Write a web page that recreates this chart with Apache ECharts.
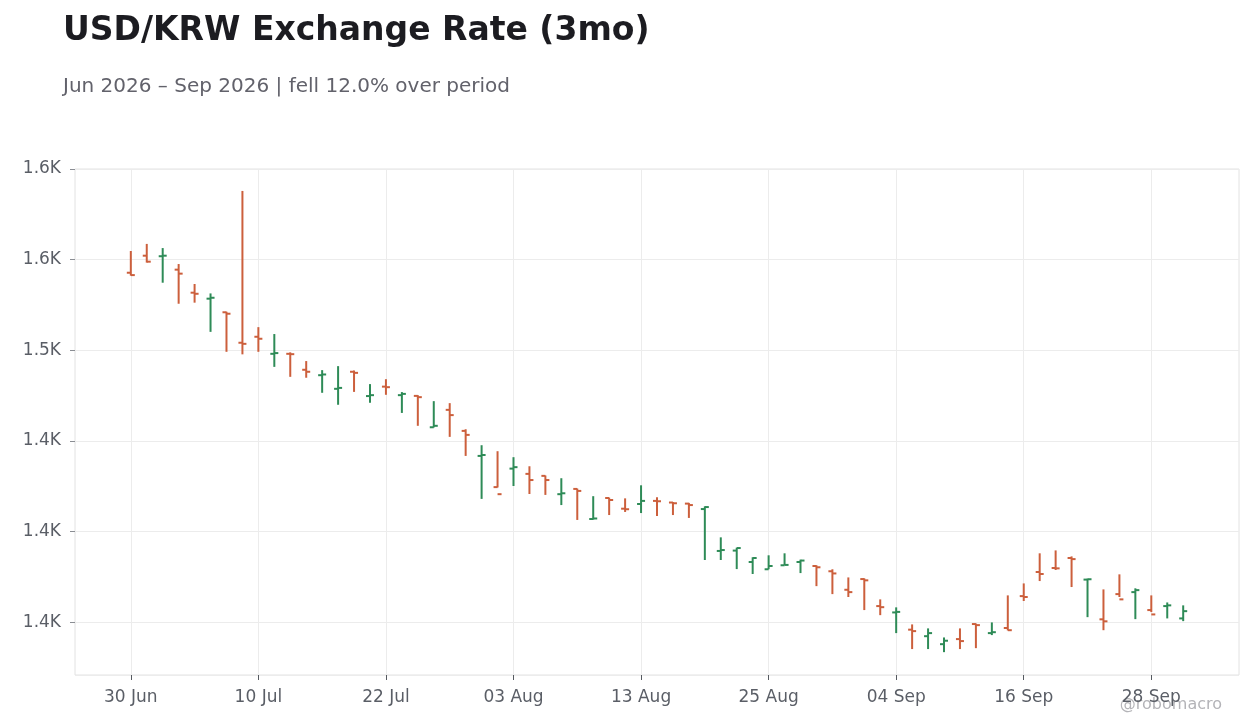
<!DOCTYPE html>
<html>
<head>
<meta charset="utf-8">
<title>USD/KRW Exchange Rate (3mo)</title>
<script src="https://cdn.jsdelivr.net/npm/echarts@6/dist/echarts.min.js"></script>
<style>
  html, body { margin: 0; padding: 0; background: #fff; }
  #chart { width: 1260px; height: 728px; }
</style>
</head>
<body>
<div id="chart"></div>
<script>
// business days, 30 Jun - 30 Sep 2026
const dates = [
  '30 Jun', '01 Jul', '02 Jul', '03 Jul', '06 Jul', '07 Jul', '08 Jul', '09 Jul', '10 Jul',
  '13 Jul', '14 Jul', '15 Jul', '16 Jul', '17 Jul', '20 Jul', '21 Jul', '22 Jul',
  '23 Jul', '24 Jul', '27 Jul', '28 Jul', '29 Jul', '30 Jul', '31 Jul', '03 Aug',
  '04 Aug', '05 Aug', '06 Aug', '07 Aug', '10 Aug', '11 Aug', '12 Aug', '13 Aug',
  '14 Aug', '17 Aug', '18 Aug', '19 Aug', '20 Aug', '21 Aug', '24 Aug', '25 Aug',
  '26 Aug', '27 Aug', '28 Aug', '31 Aug', '01 Sep', '02 Sep', '03 Sep', '04 Sep',
  '07 Sep', '08 Sep', '09 Sep', '10 Sep', '11 Sep', '14 Sep', '15 Sep', '16 Sep',
  '17 Sep', '18 Sep', '21 Sep', '22 Sep', '23 Sep', '24 Sep', '25 Sep', '28 Sep',
  '29 Sep', '30 Sep'
]

const opens = [
  1542.8, 1552.2, 1551.9, 1544.5, 1531.8, 1528.5, 1521.0, 1504.2, 1507.5, 1498.1,
  1498.1, 1489.3, 1486.3, 1478.8, 1488.2, 1474.8, 1480.0, 1475.3, 1474.9, 1457.6,
  1467.2, 1455.6, 1441.8, 1424.6, 1434.8, 1431.9, 1430.8, 1420.7, 1423.6, 1407.0,
  1418.6, 1412.7, 1415.3, 1417.0, 1416.1, 1415.5, 1412.5, 1389.4, 1389.6, 1383.3,
  1379.3, 1381.5, 1383.3, 1381.1, 1378.2, 1368.0, 1373.9, 1359.0, 1355.5, 1346.0,
  1342.4, 1338.0, 1340.8, 1349.1, 1344.1, 1346.9, 1364.5, 1377.8, 1380.0, 1385.5,
  1373.6, 1351.7, 1365.6, 1366.7, 1356.8, 1359.0, 1352.2
]
const closes = [
  1541.5, 1548.9, 1552.2, 1542.3, 1531.2, 1529.0, 1520.2, 1503.6, 1506.4, 1498.5,
  1497.9, 1488.2, 1486.7, 1479.3, 1487.6, 1475.3, 1479.7, 1476.0, 1474.2, 1458.4,
  1464.3, 1453.4, 1442.3, 1420.7, 1435.6, 1428.5, 1428.5, 1421.2, 1422.5, 1407.3,
  1417.5, 1412.4, 1417.0, 1416.8, 1415.7, 1414.7, 1413.6, 1389.9, 1391.0, 1385.5,
  1381.1, 1381.7, 1384.1, 1380.4, 1377.0, 1366.7, 1373.2, 1358.4, 1355.8, 1345.2,
  1344.1, 1339.9, 1339.7, 1348.5, 1344.6, 1345.7, 1364.0, 1376.7, 1379.8, 1384.9,
  1373.8, 1350.6, 1362.7, 1367.8, 1354.4, 1359.4, 1356.2
]
const lows = [
  1541.2, 1548.4, 1537.3, 1525.7, 1526.3, 1510.2, 1499.2, 1497.8, 1499.2, 1490.9,
  1485.4, 1484.9, 1476.6, 1470.0, 1477.1, 1471.1, 1475.5, 1465.5, 1458.4, 1457.5,
  1452.3, 1441.8, 1418.1, 1424.4, 1425.2, 1420.8, 1420.3, 1414.7, 1406.5, 1406.7,
  1409.2, 1410.9, 1410.3, 1408.7, 1409.2, 1407.6, 1384.4, 1384.4, 1379.4, 1376.7,
  1379.3, 1381.5, 1377.2, 1370.0, 1365.6, 1364.0, 1356.8, 1354.0, 1344.1, 1335.3,
  1335.3, 1333.6, 1335.3, 1335.8, 1343.0, 1345.6, 1361.8, 1372.8, 1378.9, 1369.5,
  1352.9, 1345.7, 1364.0, 1351.8, 1355.7, 1352.2, 1350.7
]
const highs = [
  1554.8, 1558.7, 1556.4, 1547.6, 1536.6, 1531.4, 1521.3, 1587.9, 1512.8, 1509.0,
  1498.9, 1494.1, 1489.1, 1491.3, 1488.9, 1481.4, 1484.1, 1477.0, 1475.3, 1472.0,
  1470.9, 1456.5, 1447.7, 1444.4, 1441.1, 1436.1, 1431.0, 1429.5, 1423.8, 1419.6,
  1418.8, 1418.4, 1425.6, 1419.0, 1416.4, 1415.9, 1414.0, 1396.9, 1391.2, 1385.9,
  1387.0, 1388.1, 1384.6, 1381.5, 1379.3, 1374.8, 1374.3, 1362.7, 1358.3, 1348.9,
  1346.7, 1341.7, 1346.7, 1349.4, 1350.0, 1364.9, 1371.5, 1388.1, 1389.7, 1386.4,
  1374.1, 1368.2, 1376.5, 1368.8, 1364.9, 1361.0, 1359.4
]

const UP = '#2e8b57'
const DOWN = '#cc5f3c'
const PAD = 3   // empty slots either side of the bars
const labelEvery = 8

const cats = []
for (let i = 0; i < PAD; i++) cats.push('')
dates.forEach(d => cats.push(d))
for (let i = 0; i < PAD; i++) cats.push('')

const ohlc = dates.map((d, i) => [i + PAD, opens[i], closes[i], lows[i], highs[i]])

const showAt = (idx) => idx >= PAD && idx < PAD + dates.length && (idx - PAD) % labelEvery === 0

const font = 'DejaVu Sans'
const chart = echarts.init(document.getElementById('chart'))

chart.setOption({
  animation: false,
  backgroundColor: '#ffffff',
  title: {
    text: 'USD/KRW Exchange Rate (3mo)',
    subtext: 'Jun 2026 \u2013 Sep 2026 | fell 12.0% over period',
    left: 63,
    top: 15,
    padding: 0,
    itemGap: 29,
    textStyle: { fontFamily: font, fontSize: 33, fontWeight: 'bold', color: '#1c1c21' },
    subtextStyle: { fontFamily: font, fontSize: 20, color: '#62626b' }
  },
  graphic: [{
    type: 'text',
    right: 38,
    top: 697,
    style: { text: '@robomacro', fontFamily: font, fontSize: 16, fill: '#b4b4b8' }
  }],
  grid: {
    left: 75, right: 21, top: 169, bottom: 53,
    show: true, borderColor: '#e2e2e2', borderWidth: 1
  },
  xAxis: {
    type: 'category',
    data: cats,
    boundaryGap: true,
    axisLine: { show: false },
    axisTick: {
      show: true, alignWithLabel: true, interval: showAt, length: 5,
      lineStyle: { color: '#55595f' }
    },
    axisLabel: {
      interval: showAt, margin: 14,
      fontFamily: font, fontSize: 17, color: '#5a5e66'
    },
    splitLine: {
      show: true, interval: showAt, alignWithLabel: true,
      lineStyle: { color: '#ececec' }
    }
  },
  yAxis: {
    type: 'value',
    min: 1321,
    max: 1600,
    axisLine: { show: false },
    axisTick: { show: true, length: 5, lineStyle: { color: '#8a8d93' } },
    axisLabel: {
      showMinLabel: false, margin: 14,
      fontFamily: font, fontSize: 17, color: '#5a5e66',
      formatter: v => (v / 1000).toFixed(1) + 'K'
    },
    splitLine: { lineStyle: { color: '#ececec' } }
  },
  series: [{
    type: 'custom',
    data: ohlc,
    encode: { x: 0, y: [1, 2, 3, 4] },
    renderItem: (params, api) => {
      const x = api.value(0)
      const o = api.value(1), c = api.value(2)
      const pO = api.coord([x, o])
      const pC = api.coord([x, c])
      const pL = api.coord([x, api.value(3)])
      const pH = api.coord([x, api.value(4)])
      const color = c >= o ? UP : DOWN
      const t = 4
      const st = { stroke: color, lineWidth: 2 }
      return {
        type: 'group',
        children: [
          { type: 'line', shape: { x1: pH[0], y1: pH[1], x2: pL[0], y2: pL[1] }, style: st },
          { type: 'line', shape: { x1: pO[0] - t, y1: pO[1], x2: pO[0], y2: pO[1] }, style: st },
          { type: 'line', shape: { x1: pC[0], y1: pC[1], x2: pC[0] + t, y2: pC[1] }, style: st }
        ]
      }
    }
  }]
})
</script>
</body>
</html>
